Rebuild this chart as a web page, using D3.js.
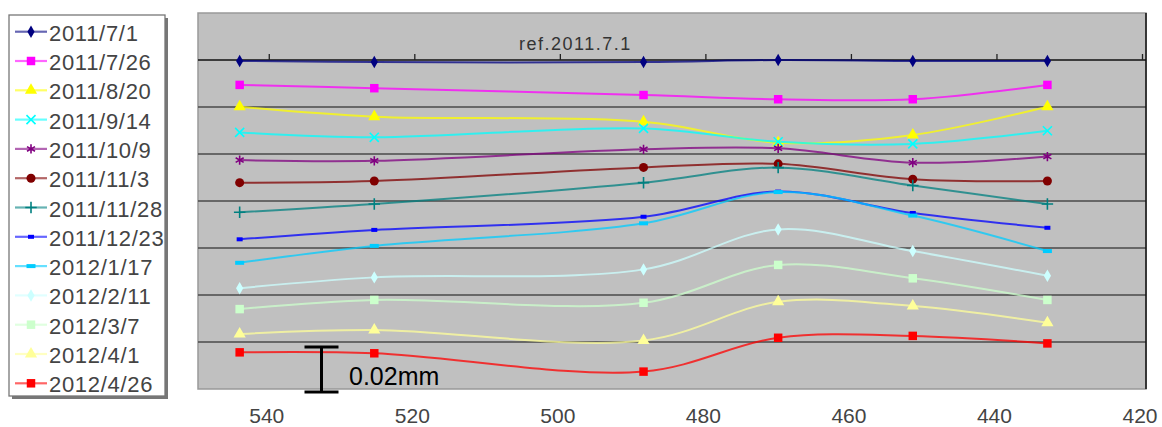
<!DOCTYPE html>
<html>
<head>
<meta charset="utf-8">
<script src="https://cdn.jsdelivr.net/npm/d3@7"></script>
<style>
  body { margin: 0; background: #fff; overflow: hidden; }
  svg { display: block; }
  text { font-family: "Liberation Sans", Arial, sans-serif; }
</style>
</head>
<body>
<svg id="chart"></svg>
<script>
// wavelength (nm) of each measuring point
const wavelengths = [544, 525.5, 488.5, 470, 451.5, 433];
const xTicks = [540, 520, 500, 480, 460, 440, 420];
const dates = ["2011/7/1", "2011/7/26", "2011/8/20", "2011/9/14", "2011/10/9", "2011/11/3",
  "2011/11/28", "2011/12/23", "2012/1/17", "2012/2/11", "2012/3/7", "2012/4/1", "2012/4/26"];

// displacement (mm), each date shifted down for display
const d20110701 = [-0.0004, -0.0009, -0.0009, 0.0000, -0.0004, -0.0004];
const d20110726 = [-0.0106, -0.0120, -0.0149, -0.0167, -0.0167, -0.0106];
const d20110820 = [-0.0199, -0.0241, -0.0263, -0.0352, -0.0319, -0.0199];
const d20110914 = [-0.0308, -0.0329, -0.0291, -0.0348, -0.0357, -0.0301];
const d20111009 = [-0.0426, -0.0429, -0.0380, -0.0376, -0.0437, -0.0411];
const d20111103 = [-0.0522, -0.0515, -0.0457, -0.0442, -0.0507, -0.0515];
const d20111128 = [-0.0648, -0.0613, -0.0522, -0.0458, -0.0534, -0.0613];
const d20111223 = [-0.0763, -0.0723, -0.0667, -0.0560, -0.0651, -0.0714];
const d20120117 = [-0.0863, -0.0791, -0.0695, -0.0562, -0.0662, -0.0813];
const d20120211 = [-0.0971, -0.0925, -0.0891, -0.0721, -0.0813, -0.0918];
const d20120307 = [-0.1060, -0.1021, -0.1033, -0.0872, -0.0929, -0.1021];
const d20120401 = [-0.1166, -0.1149, -0.1194, -0.1029, -0.1047, -0.1118];
const d20120426 = [-0.1244, -0.1248, -0.1326, -0.1182, -0.1174, -0.1206];

const allValues = [d20110701, d20110726, d20110820, d20110914, d20111009, d20111103,
  d20111128, d20111223, d20120117, d20120211, d20120307, d20120401, d20120426];

const colors = ["#000080", "#ff00ff", "#ffff00", "#00ffff", "#800080", "#800000",
  "#008080", "#0000ff", "#00ccff", "#ccffff", "#ccffcc", "#ffff99", "#ff0000"];
const markers = ["diamond", "square", "triangle", "times", "asterisk", "circle",
  "plus", "dash", "longdash", "diamond", "square", "triangle", "square"];

let w = 1162, h = 427;
let svg = d3.select("#chart").attr("width", w).attr("height", h);

let pLeft = 198, pRight = 1146, pTop = 13, pBottom = 389;

let x = d3.scaleLinear().domain([550, 420]).range([196, 1142]);
let y = d3.scaleLinear().domain([-0.14, 0.02]).range([pBottom, pTop]);

// plot area
svg.append("rect")
  .attr("x", pLeft).attr("y", pTop)
  .attr("width", pRight - pLeft).attr("height", pBottom - pTop)
  .attr("fill", "#c0c0c0")
  .attr("stroke", "#999").attr("stroke-width", 1.5);

let gridVals = d3.range(1, 7).map(i => -0.02 * i);
svg.selectAll(".grid")
  .data(gridVals)
  .enter()
  .append("line")
  .attr("x1", pLeft).attr("x2", pRight)
  .attr("y1", d => y(d)).attr("y2", d => y(d))
  .attr("stroke", "#4a4a4a")
  .attr("stroke-width", 1.6);

// right-side value axis line
svg.append("line")
  .attr("x1", pRight).attr("x2", pRight)
  .attr("y1", pTop).attr("y2", pBottom)
  .attr("stroke", "#111").attr("stroke-width", 1.5);

// x axis crossing at 0
let xAxis = d3.axisTop(x).tickValues(xTicks).tickSize(6).tickFormat("");
let gx = svg.append("g").attr("transform", `translate(0,${y(0)})`).call(xAxis);
gx.select(".domain").attr("d", `M${pLeft},0H${pRight}`).attr("stroke", "#111").attr("stroke-width", 1.6);
gx.selectAll(".tick line").attr("stroke", "#222").attr("stroke-width", 1.3);

// tick labels below plot
svg.selectAll(".xlab")
  .data(xTicks)
  .enter()
  .append("text")
  .attr("x", d => x(d) - 2)
  .attr("y", 423)
  .attr("text-anchor", "middle")
  .attr("font-size", 21)
  .attr("fill", "#444")
  .text(d => d);

svg.append("text")
  .attr("x", x(505.6)).attr("y", 50)
  .attr("font-size", 18)
  .attr("letter-spacing", 1.5)
  .attr("fill", "#333")
  .text("ref.2011.7.1");

// lines
let line = d3.line()
  .x((d, i) => x(wavelengths[i]))
  .y(d => y(d))
  .curve(d3.curveCatmullRom.alpha(0.5));

function drawMarker(g, type, color) {
  if (type === "dash" || type === "longdash") {
    let mw = type === "dash" ? 6 : 9;
    g.append("rect").attr("x", -mw / 2).attr("y", -2).attr("width", mw).attr("height", 4)
      .attr("fill", color);
    return;
  }
  let sym = {
    diamond: [d3.symbolDiamond, 45],
    square: [d3.symbolSquare, 72],
    triangle: [d3.symbolTriangle, 64],
    circle: [d3.symbolCircle, 64],
    times: [d3.symbolTimes, 55],
    plus: [d3.symbolPlus, 45],
    asterisk: [d3.symbolAsterisk, 60]
  }[type];
  let stroked = ["times", "plus", "asterisk"].includes(type);
  g.append("path")
    .attr("d", d3.symbol().type(sym[0]).size(sym[1])())
    .attr("fill", stroked ? "none" : color)
    .attr("stroke", stroked ? color : "none")
    .attr("stroke-width", 1.6);
}

allValues.forEach((vals, s) => {
  svg.append("path")
    .datum(vals)
    .attr("d", line)
    .attr("fill", "none")
    .attr("stroke", colors[s])
    .attr("stroke-opacity", 0.75)
    .attr("stroke-width", 2);

  vals.forEach((v, i) => {
    let g = svg.append("g").attr("transform", `translate(${x(wavelengths[i])},${y(v)})`);
    drawMarker(g, markers[s], colors[s]);
  });
});

// scale bar
let barX = 321.5, barTop = 347, barBot = 392;
svg.append("path")
  .attr("d", `M${barX - 17},${barTop}H${barX + 17}M${barX},${barTop}V${barBot}M${barX - 17},${barBot}H${barX + 17}`)
  .attr("stroke", "#000").attr("stroke-width", 3).attr("fill", "none");
svg.append("text")
  .attr("x", 349).attr("y", 385)
  .attr("font-size", 25)
  .attr("fill", "#000")
  .text("0.02mm");

// legend
let lg = svg.append("g");
lg.append("rect").attr("x", 12).attr("y", 18).attr("width", 156).attr("height", 381).attr("fill", "#777");
lg.append("rect").attr("x", 9).attr("y", 15).attr("width", 156).attr("height", 381)
  .attr("fill", "#fff").attr("stroke", "#777").attr("stroke-width", 1.3);

dates.forEach((d, s) => {
  let ry = 31.7 + 29.3 * s;
  lg.append("line").attr("x1", 15).attr("x2", 47).attr("y1", ry).attr("y2", ry)
    .attr("stroke", colors[s]).attr("stroke-opacity", 0.6).attr("stroke-width", 2.2);
  let g = lg.append("g").attr("transform", `translate(31,${ry})`);
  drawMarker(g, markers[s], colors[s]);
  lg.append("text").attr("x", 49).attr("y", ry + 9)
    .attr("font-size", 22).attr("letter-spacing", 0.7)
    .attr("fill", "#444")
    .text(d);
});
</script>
</body>
</html>
